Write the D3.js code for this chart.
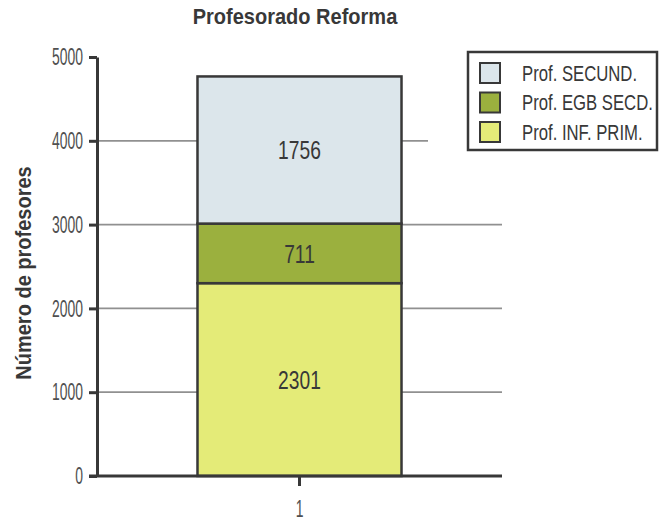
<!DOCTYPE html>
<html>
<head>
<meta charset="utf-8">
<script src="https://cdn.jsdelivr.net/npm/d3@7"></script>
<style>
  html, body { margin: 0; padding: 0; background: #fff; }
  svg { display: block; }
</style>
</head>
<body>
<div id="chart"></div>
<script>
// ---- data ----
const categories = ["1"];
const seriesNames = ["Prof. INF. PRIM.", "Prof. EGB SECD.", "Prof. SECUND."];
const infPrim = [2301];
const egbSecd = [711];
const secund = [1756];
const yTicks = [0, 1000, 2000, 3000, 4000, 5000];
const seriesColors = ["#e4eb78", "#9bb03e", "#dce6eb"];
const titleText = "Profesorado Reforma";
const yTitleText = "Número de profesores";

// ---- setup ----
const W = 663, H = 523;
const FONT = "'Liberation Sans Narrow', 'Arial Narrow', 'Liberation Sans', Arial, sans-serif";
const DARK = "#383838";
const SX_BAR = 0.74;   // squeeze for bar value labels
const SX_TICK = 0.58;  // squeeze for axis tick labels
const SX_LEG = 0.76;   // squeeze for legend labels
const SX_BOLD = 0.91;  // squeeze for bold titles

const svg = d3.select("#chart").append("svg").attr("width", W).attr("height", H);
svg.append("rect").attr("width", W).attr("height", H).attr("fill", "#fff");

const y = d3.scaleLinear().domain([0, 5000]).range([476, 57]);
const x = d3.scaleBand().domain(categories).range([97, 502]).padding(0.33);

const table = categories.map((c, i) => ({
  cat: c,
  [seriesNames[0]]: infPrim[i],
  [seriesNames[1]]: egbSecd[i],
  [seriesNames[2]]: secund[i]
}));
const stacked = d3.stack().keys(seriesNames)(table);
const color = d3.scaleOrdinal().domain(seriesNames).range(seriesColors);

// legend geometry
const legend = { x: 468, y: 52, w: 189, h: 98 };

// ---- gridlines ----
svg.append("g").selectAll("line")
  .data(yTicks.filter(d => d > 0 && d < 5000))
  .join("line")
  .attr("x1", x.range()[0])
  .attr("x2", d => (y(d) >= legend.y && y(d) <= legend.y + legend.h) ? legend.x - 40 : x.range()[1])
  .attr("y1", d => y(d)).attr("y2", d => y(d))
  .attr("stroke", "#909090").attr("stroke-width", 1.8);

// ---- bars ----
const layers = svg.append("g").selectAll("g").data(stacked).join("g")
  .attr("fill", d => color(d.key));
layers.selectAll("rect").data(d => d).join("rect")
  .attr("x", d => x(d.data.cat))
  .attr("y", d => y(d[1]))
  .attr("width", x.bandwidth())
  .attr("height", d => y(d[0]) - y(d[1]))
  .attr("stroke", DARK).attr("stroke-width", 2.5);

// ---- bar labels ----
stacked.forEach(layer => {
  layer.forEach(d => {
    const cx = x(d.data.cat) + x.bandwidth() / 2;
    const cy = (y(d[0]) + y(d[1])) / 2;
    svg.append("text")
      .attr("transform", `translate(${cx},${cy}) scale(${SX_BAR},1)`)
      .attr("text-anchor", "middle").attr("dy", "0.36em")
      .attr("font-family", FONT).attr("font-size", 26).attr("fill", DARK)
      .text(d[1] - d[0]);
  });
});

// ---- y axis ----
const yAxis = svg.append("g").attr("transform", `translate(${x.range()[0]},0)`)
  .call(d3.axisLeft(y).tickValues(yTicks).tickSize(8).tickSizeOuter(0).tickPadding(6).tickFormat(d3.format("d")));
yAxis.select(".domain").attr("stroke", DARK).attr("stroke-width", 3);
yAxis.selectAll(".tick line").attr("stroke", DARK).attr("stroke-width", 3);
yAxis.selectAll(".tick text")
  .attr("x", -14 / SX_TICK)
  .attr("transform", `scale(${SX_TICK},1)`)
  .attr("font-family", FONT).attr("font-size", 24).attr("fill", "#505050");

// ---- x axis ----
const xAxis = svg.append("g").attr("transform", `translate(0,${y(0)})`)
  .call(d3.axisBottom(x).tickSize(10).tickSizeOuter(0).tickPadding(14));
xAxis.select(".domain").remove();
xAxis.insert("line", ":first-child")
  .attr("x1", x.range()[0] - 8).attr("x2", x.range()[1])
  .attr("stroke", DARK).attr("stroke-width", 3);
xAxis.selectAll(".tick line").attr("stroke", DARK).attr("stroke-width", 3);
xAxis.selectAll(".tick text")
  .attr("font-family", FONT).attr("font-size", 24).attr("fill", "#505050")
  .attr("transform", `scale(${SX_TICK},1)`)
  .attr("x", 0);

// ---- title ----
svg.append("text")
  .attr("transform", `translate(295,24) scale(${SX_BOLD},1)`)
  .attr("text-anchor", "middle")
  .attr("font-family", FONT).attr("font-weight", "bold").attr("font-size", 22).attr("fill", DARK)
  .text(titleText);

// ---- y title ----
svg.append("text")
  .attr("transform", `translate(23,273) rotate(-90) scale(${SX_BOLD},1)`)
  .attr("text-anchor", "middle").attr("dy", "0.35em")
  .attr("font-family", FONT).attr("font-weight", "bold").attr("font-size", 22).attr("fill", DARK)
  .text(yTitleText);

// ---- legend ----
const lg = svg.append("g").attr("transform", `translate(${legend.x},${legend.y})`);
lg.append("rect").attr("width", legend.w).attr("height", legend.h)
  .attr("fill", "#fff").attr("stroke", DARK).attr("stroke-width", 2.5);
const legendItems = seriesNames.slice().reverse();
const rows = lg.selectAll("g.item").data(legendItems).join("g")
  .attr("class", "item")
  .attr("transform", (d, i) => `translate(12,${11 + i * 29.5})`);
rows.append("rect").attr("width", 20).attr("height", 20)
  .attr("fill", d => color(d)).attr("stroke", DARK).attr("stroke-width", 2);
rows.append("text")
  .attr("transform", `translate(42,10) scale(${SX_LEG},1)`)
  .attr("dy", "0.36em")
  .attr("font-family", FONT).attr("font-size", 22).attr("fill", DARK)
  .text(d => d);
</script>
</body>
</html>
